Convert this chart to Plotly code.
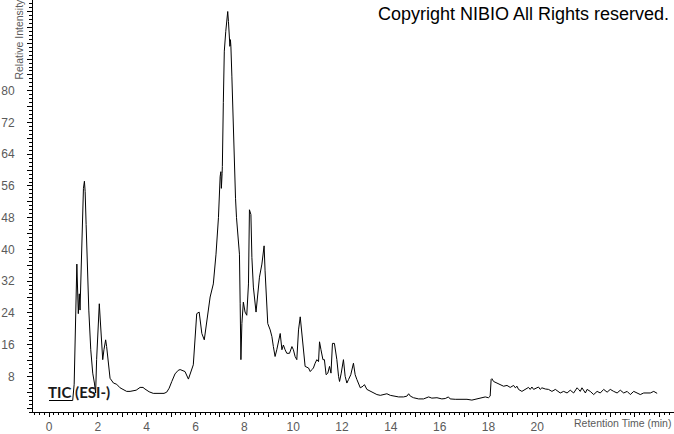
import plotly.graph_objects as go

# Retention time (min)
rt = [0.00, 0.97, 1.03, 1.09, 1.14, 1.20, 1.24, 1.27, 1.34, 1.41, 1.45, 1.48, 1.52, 1.57, 1.63,
      1.71, 1.79, 1.86, 1.91, 1.95, 2.02, 2.06, 2.10, 2.16, 2.20, 2.25, 2.32, 2.36, 2.43, 2.50,
      2.64, 2.77, 2.91, 3.03, 3.18, 3.32, 3.44, 3.57, 3.73, 3.85, 3.93, 4.10, 4.27, 4.55, 4.71,
      4.82, 4.92, 5.03, 5.16, 5.29, 5.37, 5.57, 5.71, 5.91, 6.05, 6.15, 6.26, 6.36, 6.46, 6.60,
      6.73, 6.84, 6.94, 6.98, 7.01, 7.04, 7.06, 7.09, 7.10, 7.14, 7.18, 7.24, 7.28, 7.32, 7.35,
      7.39, 7.41, 7.43, 7.45, 7.49, 7.53, 7.58, 7.64, 7.68, 7.76, 7.80, 7.83, 7.86, 7.90, 7.96,
      8.03, 8.10, 8.17, 8.21, 8.27, 8.31, 8.37, 8.48, 8.54, 8.62, 8.72, 8.81, 8.85, 8.89, 8.96,
      9.06, 9.13, 9.19, 9.26, 9.33, 9.40, 9.47, 9.54, 9.60, 9.67, 9.74, 9.85, 9.95, 10.01, 10.08,
      10.15, 10.22, 10.29, 10.36, 10.42, 10.49, 10.63, 10.70, 10.77, 10.83, 10.90, 10.97, 11.04,
      11.08, 11.14, 11.22, 11.28, 11.35, 11.42, 11.49, 11.55, 11.61, 11.69, 11.79, 11.86, 11.90,
      11.97, 12.06, 12.13, 12.20, 12.27, 12.36, 12.47, 12.54, 12.61, 12.75, 12.86, 12.92, 13.02,
      13.16, 13.29, 13.43, 13.57, 13.70, 13.84, 13.98, 14.11, 14.32, 14.52, 14.66, 14.73, 14.80,
      14.93, 15.14, 15.34, 15.48, 15.55, 15.68, 15.89, 16.09, 16.23, 16.36, 16.43, 16.64, 16.84,
      17.12, 17.32, 17.46, 17.66, 17.87, 18.00, 18.07, 18.11, 18.14, 18.21, 18.35, 18.48, 18.62,
      18.76, 18.89, 19.03, 19.10, 19.17, 19.23, 19.37, 19.51, 19.64, 19.71, 19.78, 19.85, 19.99,
      20.05, 20.12, 20.19, 20.33, 20.46, 20.60, 20.74, 20.94, 21.08, 21.22, 21.35, 21.49, 21.63,
      21.69, 21.76, 21.83, 21.90, 21.97, 22.04, 22.17, 22.31, 22.45, 22.58, 22.72, 22.86, 22.99,
      23.13, 23.27, 23.40, 23.54, 23.68, 23.81, 23.95, 24.09, 24.22, 24.36, 24.50, 24.63, 24.77,
      24.91]

# Relative intensity (%)
intensity = [1.9, 1.9, 6.0, 25.0, 36.3, 23.8, 28.8, 24.7, 43.8, 55.4, 57.2, 54.6, 46.3, 35.5, 24.7,
             14.7, 8.8, 6.3, 3.8, 12.2, 20.5, 26.3, 22.2, 15.5, 12.2, 14.7, 17.2, 15.5, 10.5, 7.5,
             6.3, 6.0, 5.1, 4.7, 4.2, 4.2, 4.4, 4.5, 5.2, 5.2, 4.8, 4.1, 3.7, 3.7, 3.7,
             4.0, 5.0, 6.7, 8.6, 9.5, 9.7, 9.2, 7.3, 10.9, 23.8, 24.2, 18.8, 17.2, 22.2, 28.0,
             31.3, 38.8, 48.0, 56.3, 58.4, 59.6, 55.4, 59.2, 60.9, 77.1, 90.0, 95.0, 98.7, 100.0, 97.5,
             92.9, 91.2, 92.9, 91.2, 83.7, 73.4, 62.1, 52.9, 48.0, 43.0, 38.8, 26.3, 12.2, 21.3, 26.7,
             24.2, 23.4, 31.3, 50.0, 48.8, 38.0, 30.5, 24.2, 28.0, 33.0, 36.3, 40.9, 34.6, 28.0, 21.3,
             19.7, 18.0, 15.5, 13.0, 14.7, 17.2, 18.8, 14.7, 15.9, 14.7, 13.8, 13.8, 15.5, 14.7, 13.0,
             12.2, 19.7, 23.0, 18.8, 14.7, 10.5, 10.1, 9.2, 9.7, 10.1, 11.3, 12.2, 11.7,
             16.7, 14.7, 12.2, 12.2, 8.4, 8.8, 10.5, 8.8, 16.3, 16.3, 12.2, 8.0, 6.7,
             8.8, 12.2, 8.0, 6.3, 7.2, 8.4, 11.3, 8.4, 7.2, 5.1, 5.5, 5.9, 4.7,
             4.2, 3.8, 3.4, 3.2, 3.4, 3.6, 3.2, 3.0, 2.8, 2.8, 3.0, 3.6, 3.0,
             2.6, 2.3, 2.3, 2.6, 2.8, 2.5, 2.6, 2.3, 2.4, 2.8, 2.3, 2.2, 2.2,
             2.2, 2.0, 2.2, 2.6, 2.8, 2.6, 3.0, 7.2, 7.4, 6.7, 6.3, 5.9, 5.5,
             5.7, 5.2, 5.7, 5.1, 5.5, 4.7, 4.2, 4.7, 5.2, 4.7, 5.3, 4.7, 5.1,
             5.3, 4.7, 5.1, 4.8, 4.7, 4.2, 4.7, 3.8, 4.2, 3.8, 4.5, 3.8, 5.1,
             4.7, 4.2, 5.1, 4.5, 3.8, 4.7, 4.2, 3.4, 4.2, 3.8, 4.7, 4.0, 4.7,
             4.2, 3.8, 4.5, 3.8, 4.2, 3.4, 4.2, 3.8, 3.4, 3.8, 3.7, 3.8, 4.2,
             3.7]

x_major = list(range(0, 26))
x_labels = [str(v) if (v % 2 == 0 and v <= 20) else "" for v in x_major]
y_major = list(range(0, 101, 4))
y_labels = [str(v) if (v % 8 == 0 and 8 <= v <= 80) else "" for v in y_major]

W, H = 674, 434
L, R, T, B = 33, 0, 0, 18
PW, PH = W - L - R, H - T - B


def px(x):
    return (x - L) / PW


def py(y):
    return (H - B - y) / PH


fig = go.Figure()
fig.add_trace(go.Scatter(x=rt, y=intensity, mode="lines",
                         line=dict(color="black", width=1), hoverinfo="skip",
                         showlegend=False))

tickfont = dict(family="Liberation Sans, Arial, sans-serif", size=12, color="#5a5a5a")

fig.update_layout(
    width=W, height=H,
    margin=dict(l=L, r=R, t=T, b=B, pad=0),
    paper_bgcolor="white", plot_bgcolor="white",
    xaxis=dict(range=[-0.656, 25.6], showgrid=False, zeroline=False,
               showline=True, linecolor="black", linewidth=1,
               tickmode="array", tickvals=x_major, ticktext=x_labels,
               ticks="outside", ticklen=4, tickcolor="black", tickwidth=1,
               tickfont=tickfont, ticklabelstandoff=0,
               minor=dict(tickmode="linear", tick0=0, dtick=0.2, ticks="outside",
                          ticklen=2, tickcolor="black", tickwidth=1)),
    yaxis=dict(range=[-1.0, 102.9], showgrid=False, zeroline=False,
               showline=True, linecolor="black", linewidth=1,
               tickmode="array", tickvals=y_major, ticktext=y_labels,
               ticks="outside", ticklen=5, tickcolor="black", tickwidth=1,
               tickfont=tickfont, ticklabelstandoff=10,
               minor=dict(tickmode="linear", tick0=0, dtick=1, ticks="outside",
                          ticklen=3, tickcolor="black", tickwidth=1)),
    annotations=[
        dict(text="Copyright NIBIO All Rights reserved.", xref="paper", yref="paper",
             x=px(376), y=py(14), xanchor="left", yanchor="middle", showarrow=False,
             font=dict(family="Liberation Sans, Arial, sans-serif", size=18, color="black")),
        dict(text="<b>TIC (ESI-)</b>", xref="paper", yref="paper",
             x=px(46), y=py(396), xanchor="left", yanchor="middle", showarrow=False,
             font=dict(family="Lato, sans-serif", size=15, color="#1a1a1a")),
        dict(text="Relative Intensity", xref="paper", yref="paper",
             x=px(19), y=py(40), xanchor="center", yanchor="middle", showarrow=False,
             textangle=-90,
             font=dict(family="Liberation Sans, Arial, sans-serif", size=10.5, color="#5a5a5a")),
        dict(text="Retention Time (min)", xref="paper", yref="paper",
             x=px(673), y=py(427), xanchor="right", yanchor="middle", showarrow=False,
             font=dict(family="Liberation Sans, Arial, sans-serif", size=10.5, color="#5a5a5a")),
    ],
)

fig.write_html("out.html", config={"displayModeBar": False},
               post_script="document.body.style.margin='0';")
